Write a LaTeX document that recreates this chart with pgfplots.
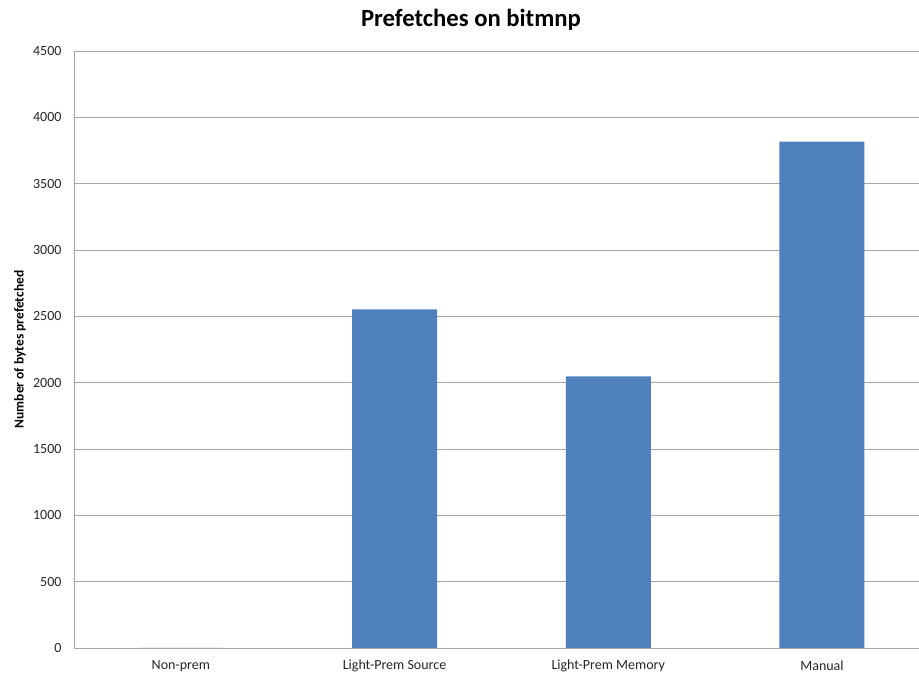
\documentclass[border=0pt]{standalone}
\usepackage{fontspec}
\setmainfont{Carlito}
\usepackage{pgfplots}
\pgfplotsset{compat=1.18}
\definecolor{barblue}{HTML}{4F81BD}
\definecolor{gridgray}{HTML}{A6A6A6}
\begin{document}
\begin{tikzpicture}
\path[use as bounding box] (-74pt,-31pt) rectangle (845pt,648pt);
\begin{axis}[
  scale only axis,
  width=845pt, height=597pt,
  xmin=-0.5, xmax=3.454,
  ymin=0, ymax=4500,
  ytick distance=500,
  xtick={0,1,2,3},
  xticklabels={Non-prem, Light-Prem Source, Light-Prem Memory, Manual},
  axis x line*=bottom,
  axis y line*=left,
  axis line style={gridgray, line width=0.8pt, -},
  ymajorgrids,
  grid style={gridgray, line width=0.8pt},
  major tick length=0pt,
  tick style={draw=none},
  /pgf/number format/assume math mode=true,
  /pgf/number format/1000 sep={},
  ticklabel style={font=\fontsize{14}{16}\selectfont, text=black!85},
  xticklabel style={anchor=center, yshift=-18pt},
  yticklabel style={anchor=east, xshift=-9pt},
  ylabel={Number of bytes prefetched},
  ylabel style={at={(axis description cs:0,0.5)}, anchor=center, yshift=54pt,
                font=\bfseries\fontsize{13.5}{15}\selectfont},
  clip=false,
]
\addplot[ybar, bar width=85pt, fill=barblue, draw=none]
  coordinates {(0,0) (1,2552) (2,2048) (3,3816)};
\end{axis}
\node[font=\bfseries\fontsize{24.7}{28}\selectfont] at (397pt,628pt) {Prefetches on bitmnp};
\end{tikzpicture}
\end{document}
